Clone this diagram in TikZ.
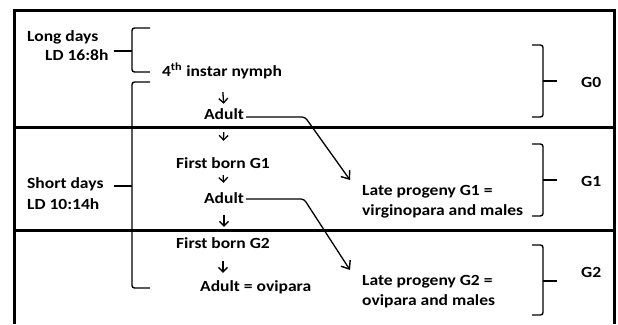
\documentclass[tikz,border=0pt]{standalone}
\usepackage{fontspec}
\setmainfont{Carlito}[FakeStretch=1.13]
\usetikzlibrary{arrows.meta}
\begin{document}
\begin{tikzpicture}[x=1pt,y=-1pt,
  lbl/.style={font=\fontsize{15.5}{20}\selectfont\bfseries, inner sep=0pt, text height=10pt, text depth=3pt},
  frame/.style={line width=3pt},
  brace/.style={line width=1.4pt, rounded corners=2.5pt},
  dn/.style={line width=1.3pt, -{Straight Barb[length=4.5pt,width=9pt,line width=1.3pt]}},
  diag/.style={line width=1.3pt, rounded corners=3pt, -{Straight Barb[length=7pt,width=11pt,line width=1.4pt]}}]
\useasboundingbox (0,0) rectangle (618,324);
% frame and dividers
\draw[frame] (14,324) -- (14,10) -- (614,10) -- (614,324);
\draw[frame] (14,127) -- (614,127);
\draw[frame] (14,230.5) -- (614,230.5);
% left texts
\node[lbl, anchor=base west] (ld1) at (27,41) {Long days};
\node[lbl, anchor=base west] (ld2) at (45,60) {LD 16:8h};
\node[lbl, anchor=base west] (sd1) at (27,188) {Short days};
\node[lbl, anchor=base west] (sd2) at (27,209) {LD 10:14h};
% central column
\node[lbl, anchor=base] (n4) at (222,76) {4\textsuperscript{th} instar nymph};
\node[lbl, anchor=base] (a1) at (224,119) {Adult};
\node[lbl, anchor=base] (fb1) at (223,168) {First born G1};
\node[lbl, anchor=base] (a2) at (224,203) {Adult};
\node[lbl, anchor=base] (fb2) at (223,248) {First born G2};
\node[lbl, anchor=base west] (a3) at (200,291) {Adult = ovipara};
% right column
\node[lbl, anchor=base west] (lp1) at (362,195) {Late progeny G1 =};
\node[lbl, anchor=base west] (lp1b) at (362,215) {virginopara and males};
\node[lbl, anchor=base west] (lp2) at (362,285) {Late progeny G2 =};
\node[lbl, anchor=base west] (lp2b) at (362,305) {ovipara and males};
\node[lbl, anchor=base west] (g0) at (581,87) {G0};
\node[lbl, anchor=base west] (g1) at (581,186) {G1};
\node[lbl, anchor=base west] (g2) at (581,277) {G2};
% small down arrows
\draw[dn, shorten <=13pt, shorten >=5pt] (n4.south) -- (a1.north);
\draw[dn, shorten <=10pt, shorten >=17pt] (a1.south) -- (fb1.north);
\draw[dn, shorten <=4pt, shorten >=10pt] (fb1.south) -- (a2.north);
\draw[dn, shorten <=9pt, shorten >=11pt] (a2.south) -- (a2.south |- fb2.north);
\draw[dn, shorten <=10pt, shorten >=8pt] (fb2.south) -- (fb2.south |- a3.north);
% diagonal connectors
\coordinate (k1) at (305,117);
\coordinate (t1) at (350,180);
\coordinate (k2) at (304,199);
\coordinate (t2) at (350,270);
\draw[diag, shorten <=2pt] (a1.east |- k1) -- (k1) -- (t1);
\draw[diag, shorten <=2pt] (a2.east |- k2) -- (k2) -- (t2);
% left braces
\draw[brace] (150,28) -- (132,28) -- (132,72) -- (150,72);
\draw[line width=1.4pt] (132,51) -- (114,51);
\draw[brace] (150,82) -- (132,82) -- (132,288) -- (150,288);
\draw[line width=1.4pt] (132,186) -- (114,186);
% right braces
\draw[brace] (532,45) -- (543,45) -- (543,117) -- (532,117);
\draw[line width=1.4pt] (543,81) -- (557,81);
\draw[brace] (532,144) -- (543,144) -- (543,216) -- (532,216);
\draw[line width=1.4pt] (543,180) -- (557,180);
\draw[brace] (532,245) -- (543,245) -- (543,315) -- (532,315);
\draw[line width=1.4pt] (543,281) -- (557,281);
\end{tikzpicture}
\end{document}
